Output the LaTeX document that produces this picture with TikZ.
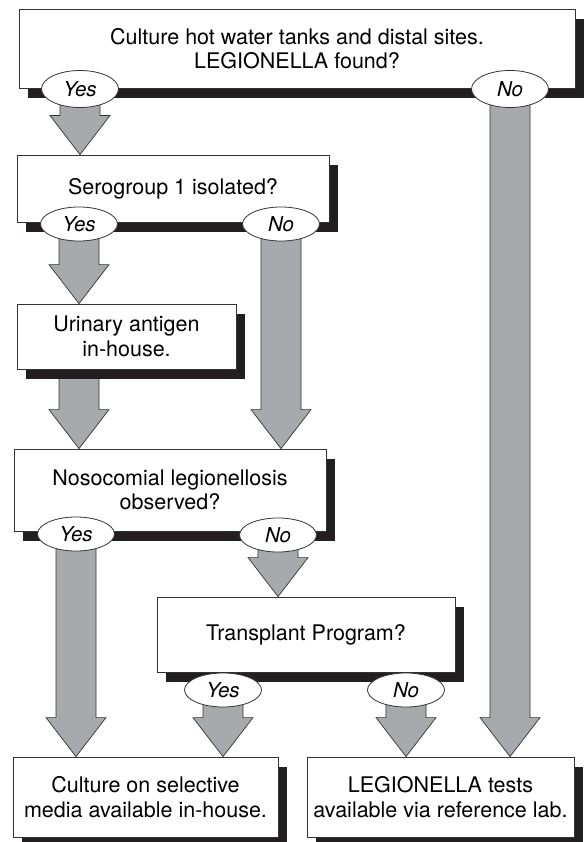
\documentclass[tikz,border=0pt]{standalone}
\usepackage{fontspec}
\setmainfont{TeX Gyre Heros}
\usetikzlibrary{shapes.geometric,shadows,calc}
\pgfdeclarelayer{bg}
\pgfsetlayers{bg,main}
\definecolor{arrowgray}{HTML}{A7A9AC}
\definecolor{shadowc}{HTML}{231F20}
\definecolor{linec}{HTML}{333333}
\tikzset{
  box/.style={draw=linec, line width=0.8pt, fill=white, rectangle, inner sep=0pt,
    align=center, font=\fontsize{21.5}{24.5}\selectfont,
    general shadow={fill=shadowc, shadow xshift=9pt, shadow yshift=-10pt}},
  ans/.style={draw=linec, line width=0.8pt, fill=white, ellipse, inner sep=0pt,
    minimum width=77pt, minimum height=34pt, font=\fontsize{20.5}{24}\selectfont\itshape},
  fat/.style={fill=arrowgray, draw=linec, line width=0.7pt, line join=miter},
}
\newcommand\fatarrow[2]{%
  \begin{pgfonlayer}{bg}
  \filldraw[fat] let \p1=(#1), \p2=(#2) in
    (\x1-20pt,\y1) -- (\x1-20pt,\y2+39pt) -- (\x1-30pt,\y2+39pt) -- (\x1,\y2)
    -- (\x1+30pt,\y2+39pt) -- (\x1+20pt,\y2+39pt) -- (\x1+20pt,\y1) -- cycle;
  \end{pgfonlayer}}
\begin{document}
\begin{tikzpicture}[x=1pt,y=-1pt]
\useasboundingbox (0,0) rectangle (584,842);
% boxes
\node[box, minimum width=556pt, minimum height=79pt] (b1) at (297,48.5)
  {Culture hot water tanks and distal sites.\\LEGIONELLA found?};
\node[box, minimum width=312pt, minimum height=67pt] (b2) at (173,188.5)
  {Serogroup 1 isolated?};
\node[box, minimum width=219pt, minimum height=65pt] (b3) at (126.5,336.5)
  {Urinary antigen\\in-house.};
\node[box, minimum width=312pt, minimum height=82pt] (b4) at (170,490)
  {Nosocomial legionellosis\\observed?};
\node[box, minimum width=298pt, minimum height=75pt] (b5) at (306,634.5)
  {Transplant Program?};
\node[box, minimum width=265pt, minimum height=80pt] (b6) at (145.5,797)
  {Culture on selective\\media available in-house.};
\node[box, minimum width=267pt, minimum height=80pt] (b7) at (440.5,797)
  {LEGIONELLA tests\\available via reference lab.};
% answer ellipses
\node[ans, minimum height=37pt] (e1y) at (80,89) {Yes};
\node[ans, minimum height=37pt] (e1n) at (510,89) {No};
\node[ans] (e2y) at (79,224) {Yes};
\node[ans] (e2n) at (281,224) {No};
\node[ans] (e4y) at (76,534) {Yes};
\node[ans] (e4n) at (278,535) {No};
\node[ans] (e5y) at (223,690) {Yes};
\node[ans] (e5n) at (406,690) {No};
% arrows
\fatarrow{e1y}{b2.north -| e1y}
\fatarrow{e1n}{b7.north -| e1n}
\fatarrow{e2y}{b3.north -| e2y}
\fatarrow{e2n}{b4.north -| e2n}
\fatarrow{b3.south -| e2y}{b4.north -| e2y}
\fatarrow{e4y}{b6.north -| e4y}
\fatarrow{e4n}{b5.north -| e4n}
\fatarrow{e5y}{b6.north -| e5y}
\fatarrow{e5n}{b7.north -| e5n}
\end{tikzpicture}
\end{document}
